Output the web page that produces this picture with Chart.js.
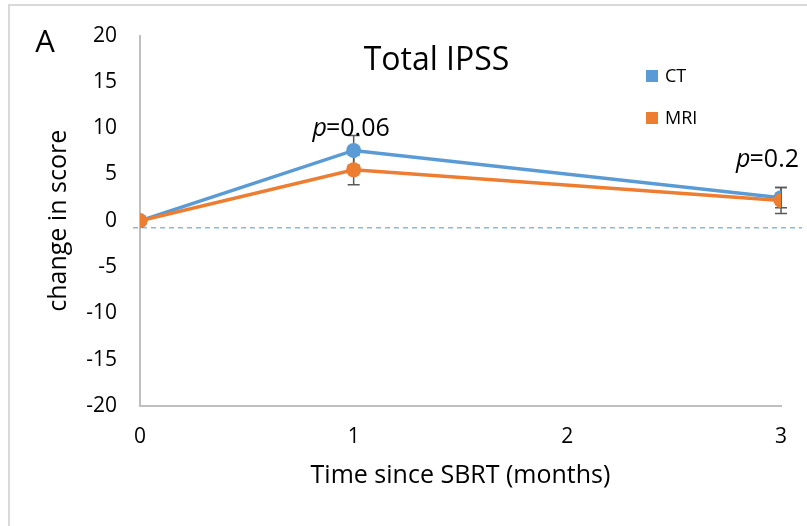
<!DOCTYPE html>
<html lang="en">
<head>
<meta charset="UTF-8">
<title>Total IPSS</title>
<script src="https://cdn.jsdelivr.net/npm/chart.js"></script>
<style>
    body { margin: 0; background: #fff; overflow: hidden; }
    .frame {
        position: absolute; left: 8px; top: 4px;
        width: 900px; height: 600px;
        border: 2px solid #d9d9d9;
    }
    .wrap { position: absolute; left: 0; top: 0; width: 807px; height: 526px; }
</style>
</head>
<body>
<div class="frame"></div>
<div class="wrap"><canvas id="ipssChart" width="807" height="526"></canvas></div>
<script>
    // data
    var months = [0, 1, 3];
    var ctValues = [0, 7.6, 2.5];
    var mriValues = [0, 5.5, 2.2];
    var ctErrors = [0, 1.6, 1.1];
    var mriErrors = [0, 1.6, 1.4];
    var xTickValues = [0, 1, 2, 3];
    var yTickValues = [-20, -15, -10, -5, 0, 5, 10, 15, 20];
    var pValues = ['0.06', '0.2'];
    var refValue = -0.75;

    var FONT = '"Open Sans", sans-serif';
    var CT_COLOR = '#5b9bd5';
    var MRI_COLOR = '#ed7d31';

    function toPoints(xs, ys) {
        return xs.map(function (x, i) { return { x: x, y: ys[i] }; });
    }

    // dashed reference line, error bars, text and legend
    var extras = {
        id: 'extras',
        beforeDatasetsDraw: function (chart) {
            var c = chart.ctx, xs = chart.scales.x, ys = chart.scales.y, area = chart.chartArea;
            c.save();
            // reference line
            c.strokeStyle = '#8fb6e0';
            c.lineWidth = 1.5;
            c.setLineDash([5, 4]);
            var yr = ys.getPixelForValue(refValue);
            c.beginPath();
            c.moveTo(area.left - 7, yr);
            c.lineTo(area.right + 21, yr);
            c.stroke();
            c.setLineDash([]);
            // error bars
            c.strokeStyle = '#595959';
            c.lineWidth = 1.5;
            [[ctValues, ctErrors], [mriValues, mriErrors]].forEach(function (s) {
                months.forEach(function (m, i) {
                    if (!s[1][i]) return;
                    var px = xs.getPixelForValue(m);
                    var top = ys.getPixelForValue(s[0][i] + s[1][i]);
                    var bot = ys.getPixelForValue(s[0][i] - s[1][i]);
                    c.beginPath();
                    c.moveTo(px, top); c.lineTo(px, bot);
                    c.moveTo(px - 6, top); c.lineTo(px + 6, top);
                    c.moveTo(px - 6, bot); c.lineTo(px + 6, bot);
                    c.stroke();
                });
            });
            c.restore();
        },
        afterDraw: function (chart) {
            var c = chart.ctx, xs = chart.scales.x, ys = chart.scales.y, area = chart.chartArea;
            c.save();
            c.fillStyle = '#000';
            c.textBaseline = 'alphabetic';
            // panel letter and title
            c.font = '31px ' + FONT;
            c.textAlign = 'center';
            c.fillText('A', 45, 52);
            c.font = '32px ' + FONT;
            c.fillText('Total IPSS', (area.left + area.right) / 2 - 24, 70);

            // p-values
            function pText(label, x, y, align) {
                c.font = 'italic 25px ' + FONT;
                var w1 = c.measureText('p').width;
                c.font = '25px ' + FONT;
                var w2 = c.measureText('=' + label).width;
                var left = align === 'right' ? x - w1 - w2 : x - (w1 + w2) / 2;
                c.textAlign = 'left';
                c.font = 'italic 25px ' + FONT;
                c.fillText('p', left, y);
                c.font = '25px ' + FONT;
                c.fillText('=' + label, left + w1 - 1, y);
            }
            pText(pValues[0], xs.getPixelForValue(1) - 2, ys.getPixelForValue(9.2), 'center');
            pText(pValues[1], area.right + 19, ys.getPixelForValue(5.8), 'right');

            // legend
            c.font = '18px ' + FONT;
            c.textAlign = 'left';
            c.textBaseline = 'middle';
            chart.data.datasets.slice().sort(function (a, b) { return a.legendRank - b.legendRank; })
                .forEach(function (ds, i) {
                    var y = 76 + i * 42;
                    c.fillStyle = ds.borderColor;
                    c.fillRect(646, y - 6, 12, 12);
                    c.fillStyle = '#000';
                    c.fillText(ds.label, 665, y + 1);
                });
            c.restore();
        }
    };

    var ctx = document.getElementById('ipssChart').getContext('2d');
    var chart = new Chart(ctx, {
        type: 'line',
        data: {
            datasets: [{
                label: 'MRI',
                legendRank: 1,
                data: toPoints(months, mriValues),
                borderColor: MRI_COLOR,
                backgroundColor: MRI_COLOR,
                borderWidth: 3.5,
                pointRadius: 7.5,
                pointBorderWidth: 0,
                order: 0
            }, {
                label: 'CT',
                legendRank: 0,
                data: toPoints(months, ctValues),
                borderColor: CT_COLOR,
                backgroundColor: CT_COLOR,
                borderWidth: 3.5,
                pointRadius: 7.5,
                pointBorderWidth: 0,
                order: 1
            }]
        },
        options: {
            responsive: false,
            devicePixelRatio: 1,
            animation: false,
            layout: { padding: { top: 33, right: 26, bottom: 0, left: 0 } },
            plugins: {
                legend: { display: false },
                tooltip: { enabled: false }
            },
            scales: {
                x: {
                    type: 'linear',
                    min: 0,
                    max: 3,
                    afterBuildTicks: function (s) { s.ticks = xTickValues.map(function (v) { return { value: v }; }); },
                    afterFit: function (s) { s.height = 120; },
                    grid: { display: false, drawTicks: false },
                    border: { display: true, color: '#bfbfbf', width: 2 },
                    ticks: { padding: 18, color: '#000', font: { family: FONT, size: 21 } },
                    title: {
                        display: true,
                        text: 'Time since SBRT (months)',
                        color: '#000',
                        font: { family: FONT, size: 25 },
                        padding: { top: 0, bottom: 35 }
                    }
                },
                y: {
                    min: -20,
                    max: 20,
                    afterBuildTicks: function (s) { s.ticks = yTickValues.map(function (v) { return { value: v }; }); },
                    afterFit: function (s) { s.width = 140; },
                    grid: { display: false, drawTicks: false },
                    border: { display: true, color: '#bfbfbf', width: 2 },
                    ticks: { padding: 23, color: '#000', font: { family: FONT, size: 21 } },
                    title: {
                        display: true,
                        text: 'change in score',
                        color: '#000',
                        font: { family: FONT, size: 25 },
                        padding: { top: 44, bottom: 0 }
                    }
                }
            }
        },
        plugins: [extras]
    });
</script>
</body>
</html>
